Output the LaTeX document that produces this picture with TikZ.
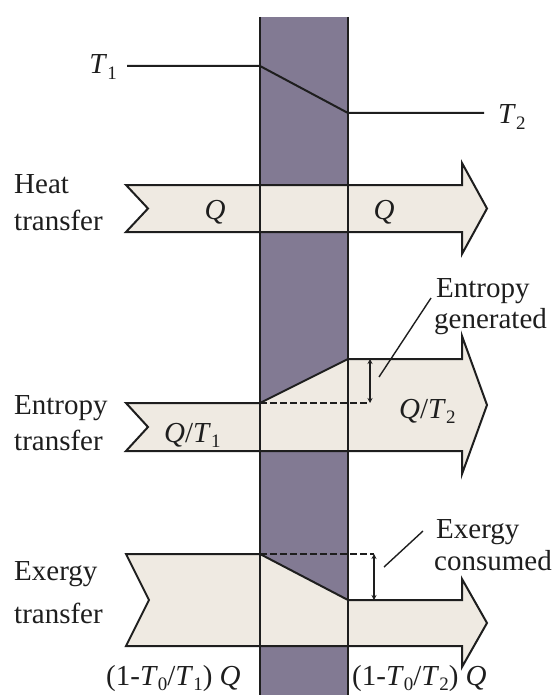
\documentclass[tikz,border=0pt]{standalone}
\usepackage{fontspec}
\setmainfont{Liberation Serif}
\usetikzlibrary{arrows.meta}
\definecolor{wallc}{HTML}{827A93}
\definecolor{flowc}{HTML}{EFEAE2}
\definecolor{inkc}{HTML}{1E1E1E}
\newcommand{\sbs}[1]{\raisebox{-0.2em}{\fontsize{19}{19}\selectfont #1}}
\newcommand{\vT}{\textit{T}}
\newcommand{\vQ}{\textit{Q}}
\begin{document}
\begin{tikzpicture}[x=1pt,y=-1pt,
  lbl/.style={inner sep=0pt,text=inkc,font=\fontsize{29}{35}\selectfont},
  flow/.style={fill=flowc,draw=inkc,line width=2pt,line join=miter},
  edge/.style={draw=inkc,line width=2pt},
  dimarr/.style={draw=inkc,line width=1.6pt,{Stealth[length=5pt,width=5pt]}-{Stealth[length=5pt,width=5pt]}},
  dashline/.style={draw=inkc,line width=1.6pt,dash pattern=on 7pt off 3pt}]
\useasboundingbox (0,0) rectangle (558,695);
% wall
\fill[wallc] (260,17) rectangle (348,695);
% temperature profile
\coordinate (t1s) at (127,66);
\coordinate (t1e) at (260,66);
\coordinate (t2s) at (348,113);
\coordinate (t2e) at (484,113);
\draw[edge] (t1s) -- (t1e) -- (t2s) -- (t2e);
\node[lbl,anchor=base east] (T1) at (117,74) {\vT\sbs{1}};
\node[lbl,anchor=base west] (T2) at (498,124) {\vT\sbs{2}};
% heat transfer arrow
\draw[flow] (126,185) -- (462,185) -- (462,163) -- (487,208.5) -- (462,254) -- (462,232) -- (126,232) -- (148,208.5) -- cycle;
% entropy transfer arrow
\draw[flow] (126,403) -- (260,403) -- (348,359) -- (462,359) -- (462,336) -- (487,405) -- (462,474) -- (462,451) -- (126,451) -- (148,427) -- cycle;
% exergy transfer arrow
\draw[flow] (126,554) -- (260,554) -- (348,600) -- (462,600) -- (462,579) -- (487,623) -- (462,667) -- (462,646) -- (126,646) -- (149,600) -- cycle;
% wall edges
\coordinate (wlt) at (260,17);
\coordinate (wlb) at (260,695);
\coordinate (wrt) at (348,17);
\coordinate (wrb) at (348,695);
\draw[edge] (wlt) -- (wlb);
\draw[edge] (wrt) -- (wrb);
% entropy generated
\coordinate (eg0) at (260,403);
\coordinate (eg1) at (370,403);
\coordinate (eg2) at (370,359);
\draw[dashline] (eg0) -- (eg1);
\draw[dimarr] (eg1) -- (eg2);
\coordinate (egl1) at (379,377);
\coordinate (egl2) at (431,298);
\draw[draw=inkc,line width=1.4pt] (egl1) -- (egl2);
\node[lbl,anchor=base west] (eg) at (436,297) {Entropy};
\node[lbl,anchor=base west] (eg') at (434,328) {generated};
% exergy consumed
\coordinate (ec0) at (260,554);
\coordinate (ec1) at (374,554);
\coordinate (ec2) at (374,600);
\draw[dashline] (ec0) -- (ec1);
\draw[dimarr] (ec1) -- (ec2);
\coordinate (ecl1) at (384,567);
\coordinate (ecl2) at (423,531);
\draw[draw=inkc,line width=1.4pt] (ecl1) -- (ecl2);
\node[lbl,anchor=base west] (ec) at (436,538) {Exergy};
\node[lbl,anchor=base west] (ec') at (434,570) {consumed};
% left labels
\node[lbl,anchor=base west] (h1) at (14,193) {Heat};
\node[lbl,anchor=base west] (h2) at (14,230) {transfer};
\node[lbl,anchor=base west] (s1) at (14,414) {Entropy};
\node[lbl,anchor=base west] (s2) at (14,450) {transfer};
\node[lbl,anchor=base west] (x1) at (14,580) {Exergy};
\node[lbl,anchor=base west] (x2) at (14,623) {transfer};
% flow labels
\node[lbl,anchor=base] (q1) at (215,219) {\vQ};
\node[lbl,anchor=base] (q2) at (384,219) {\vQ};
\node[lbl,anchor=base west] (qt1) at (164,442) {\vQ/\vT\sbs{1}};
\node[lbl,anchor=base west] (qt2) at (399,418) {\vQ/\vT\sbs{2}};
\node[lbl,anchor=base west] (b1) at (106,685) {(1-\vT\sbs{0}/\vT\sbs{1}) \vQ};
\node[lbl,anchor=base west] (b2) at (352,685) {(1-\vT\sbs{0}/\vT\sbs{2}) \vQ};
\end{tikzpicture}
\end{document}
